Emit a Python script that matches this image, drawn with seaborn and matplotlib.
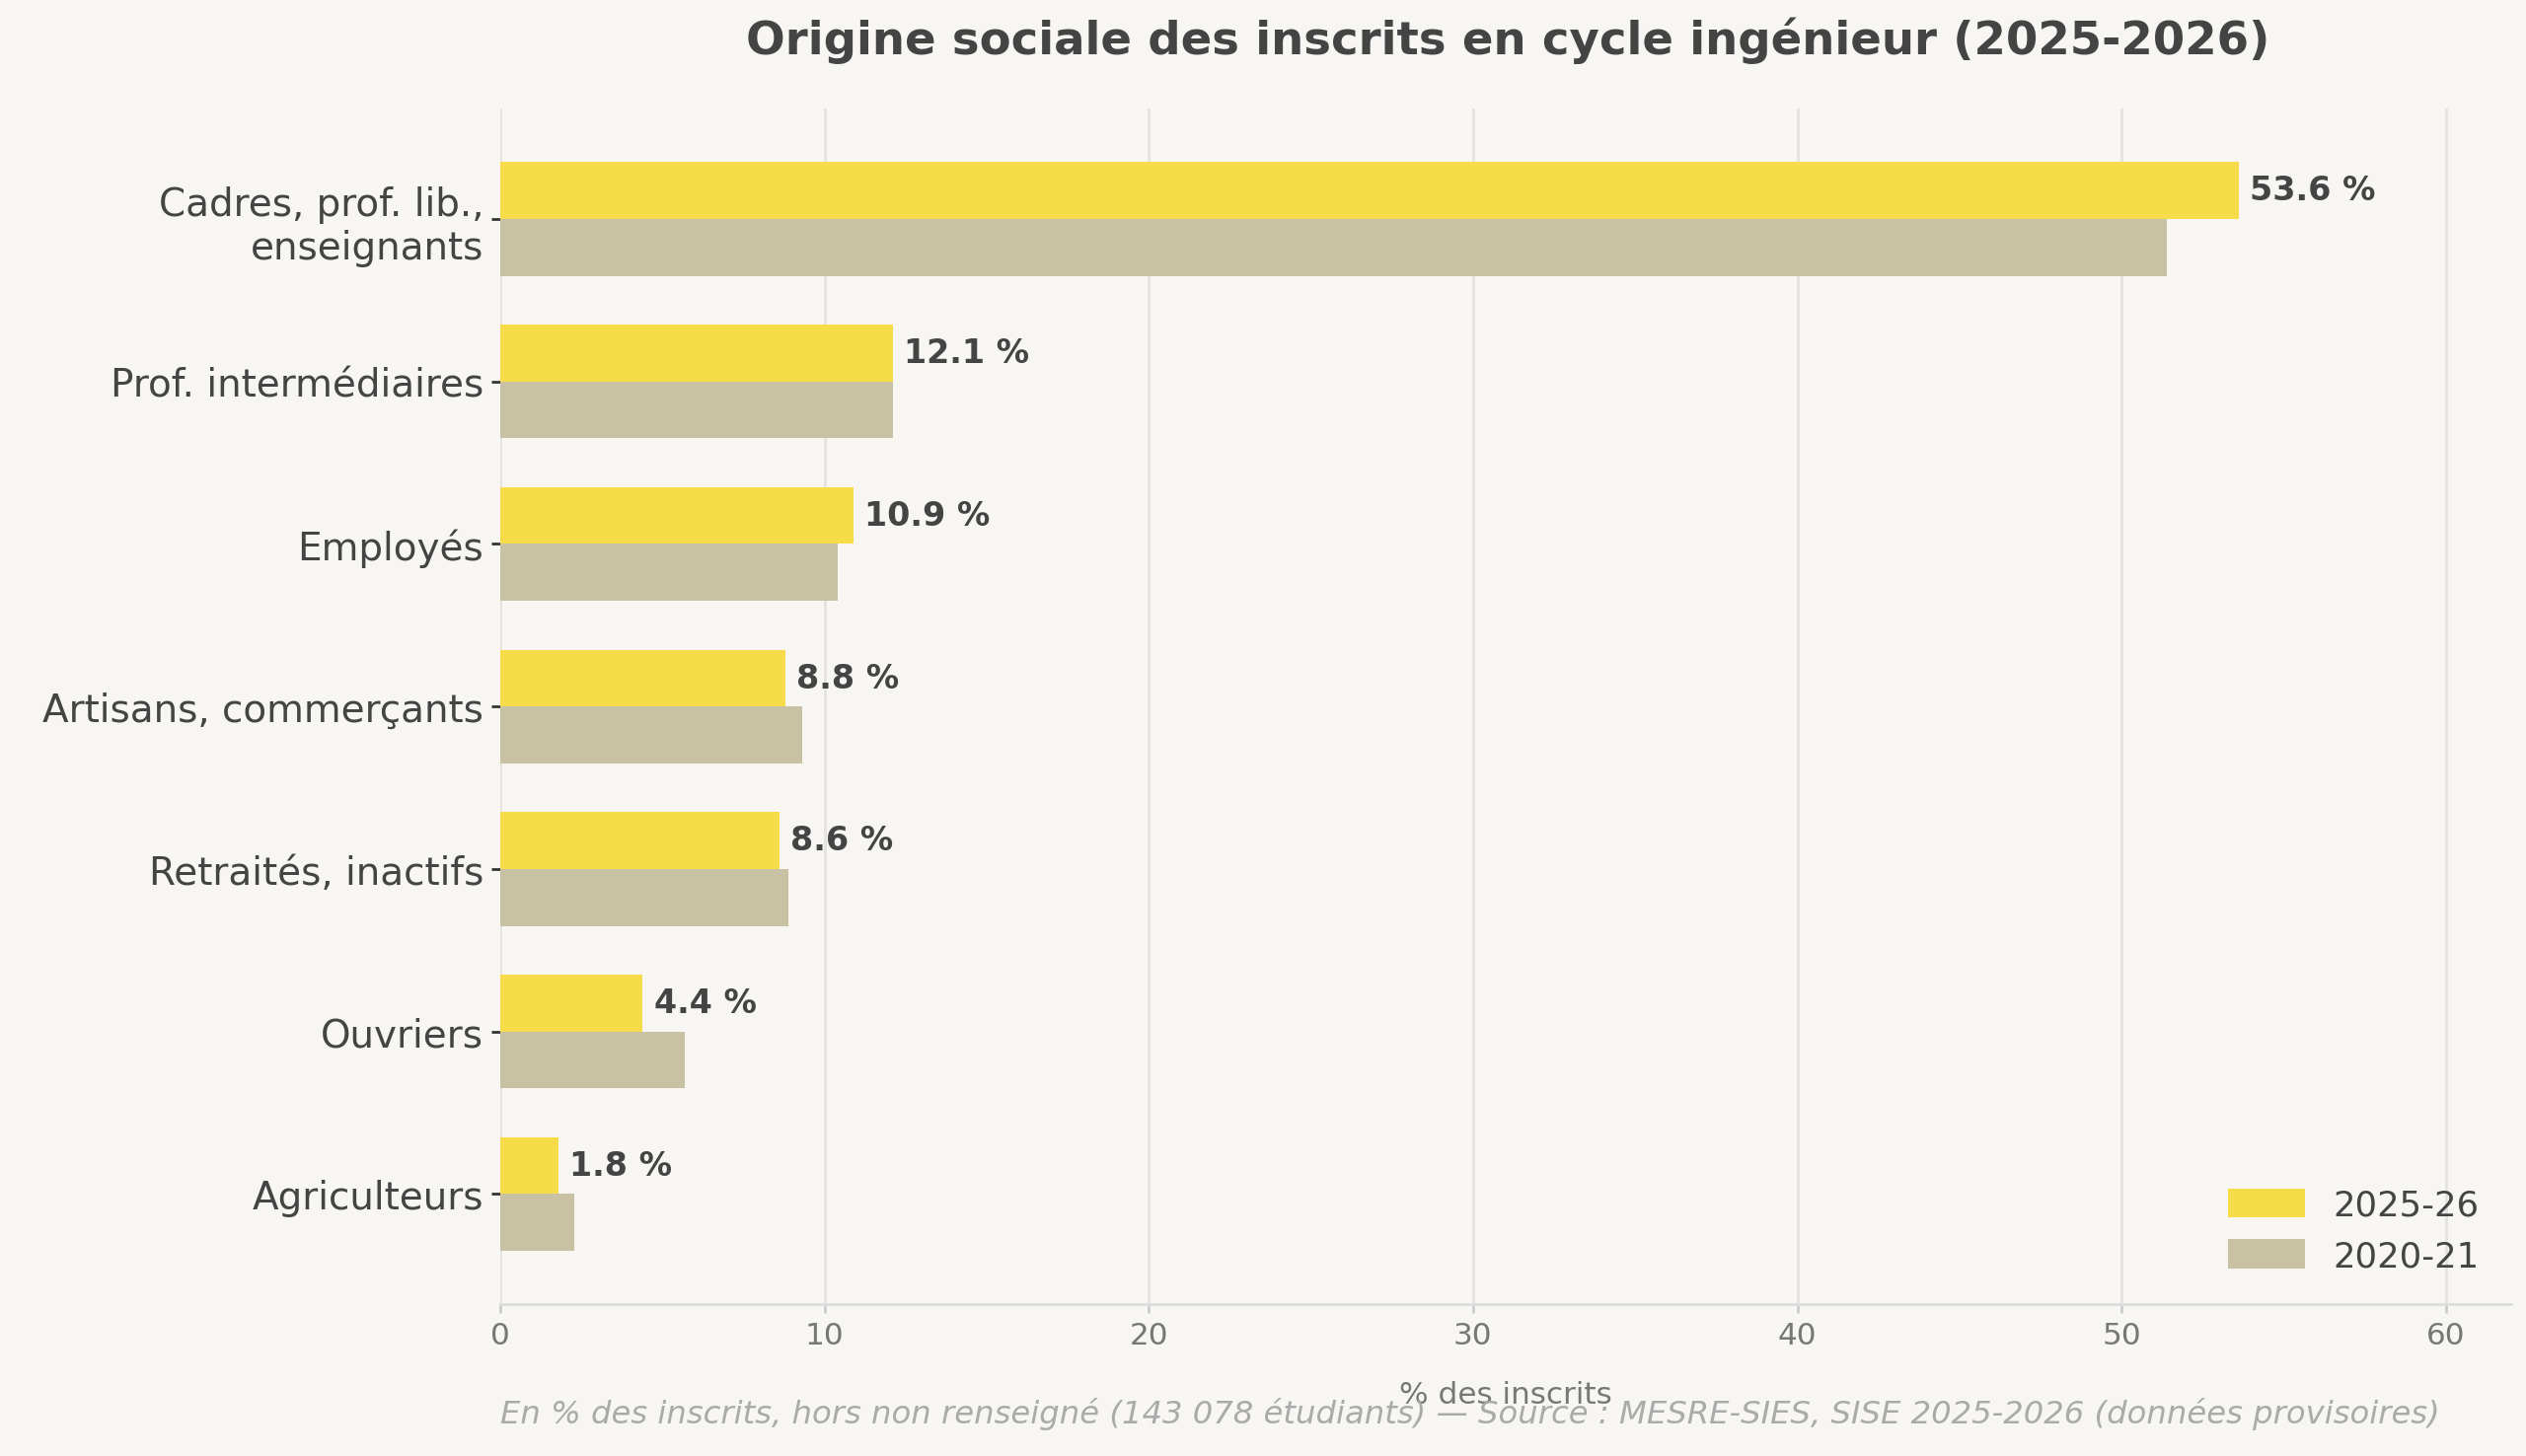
import pandas as pd
import seaborn as sns
import matplotlib.pyplot as plt

categories = ["Cadres, prof. lib.,\nenseignants", "Prof. intermédiaires", "Employés",
              "Artisans, commerçants", "Retraités, inactifs", "Ouvriers", "Agriculteurs"]
val_2025 = [53.6, 12.1, 10.9, 8.8, 8.6, 4.4, 1.8]
val_2020 = [51.4, 12.1, 10.4, 9.3, 8.9, 5.7, 2.3]
years = ["2025-26", "2020-21"]

df = pd.DataFrame({
    "cat": categories * 2,
    "val": val_2025 + val_2020,
    "year": [years[0]] * len(categories) + [years[1]] * len(categories),
})

bg = "#f7f6f2"
sns.set_theme(style="whitegrid")
plt.rcParams['font.family'] = ['DejaVu Sans']
fig = plt.figure(figsize=(16, 9.23), dpi=160, facecolor=bg)
ax = fig.add_axes([0.198, 0.104, 0.796, 0.821])
ax.set_facecolor(bg)

sns.barplot(data=df, y="cat", x="val", hue="year", orient="h", ax=ax,
            palette=["#f7dc4a", "#c8c1a3"], width=0.7, saturation=1, linewidth=0)

ax.bar_label(ax.containers[0], labels=[f"{v} %" for v in val_2025], padding=5,
             fontsize=15, fontweight="bold", color="#444444")

ax.set_xlim(0, 62)
ax.set_ylim(6.68, -0.68)
ax.set_xticks(range(0, 61, 10))
ax.grid(axis="x", color="#e3e2de", linewidth=1.2)
ax.grid(axis="y", visible=False)
for s in ["top", "right", "left"]:
    ax.spines[s].set_visible(False)
ax.spines["bottom"].set_color("#dddddd")
ax.tick_params(axis="y", labelsize=17.5, labelcolor="#444444", length=4, color="#333333", left=True)
ax.tick_params(axis="x", labelsize=14, labelcolor="#777777", length=4, color="#cccccc", bottom=True)
ax.set_ylabel("")
ax.set_xlabel("% des inscrits", fontsize=14, color="#777777", labelpad=14)

ax.legend(title=None, frameon=False, loc="lower right", fontsize=16,
          handlelength=2.2, handleheight=0.9, labelcolor="#444444")

fig.suptitle("Origine sociale des inscrits en cycle ingénieur (2025-2026)",
             x=0.597, y=0.988, fontsize=21, fontweight="bold", color="#444444")
fig.text(0.198, 0.029, "En % des inscrits, hors non renseigné (143 078 étudiants) — Source : MESRE-SIES, SISE 2025-2026 (données provisoires)",
         fontsize=14.5, style="italic", color="#aaaaaa", va="center")

fig.savefig("out.png", dpi=160, facecolor=bg)
